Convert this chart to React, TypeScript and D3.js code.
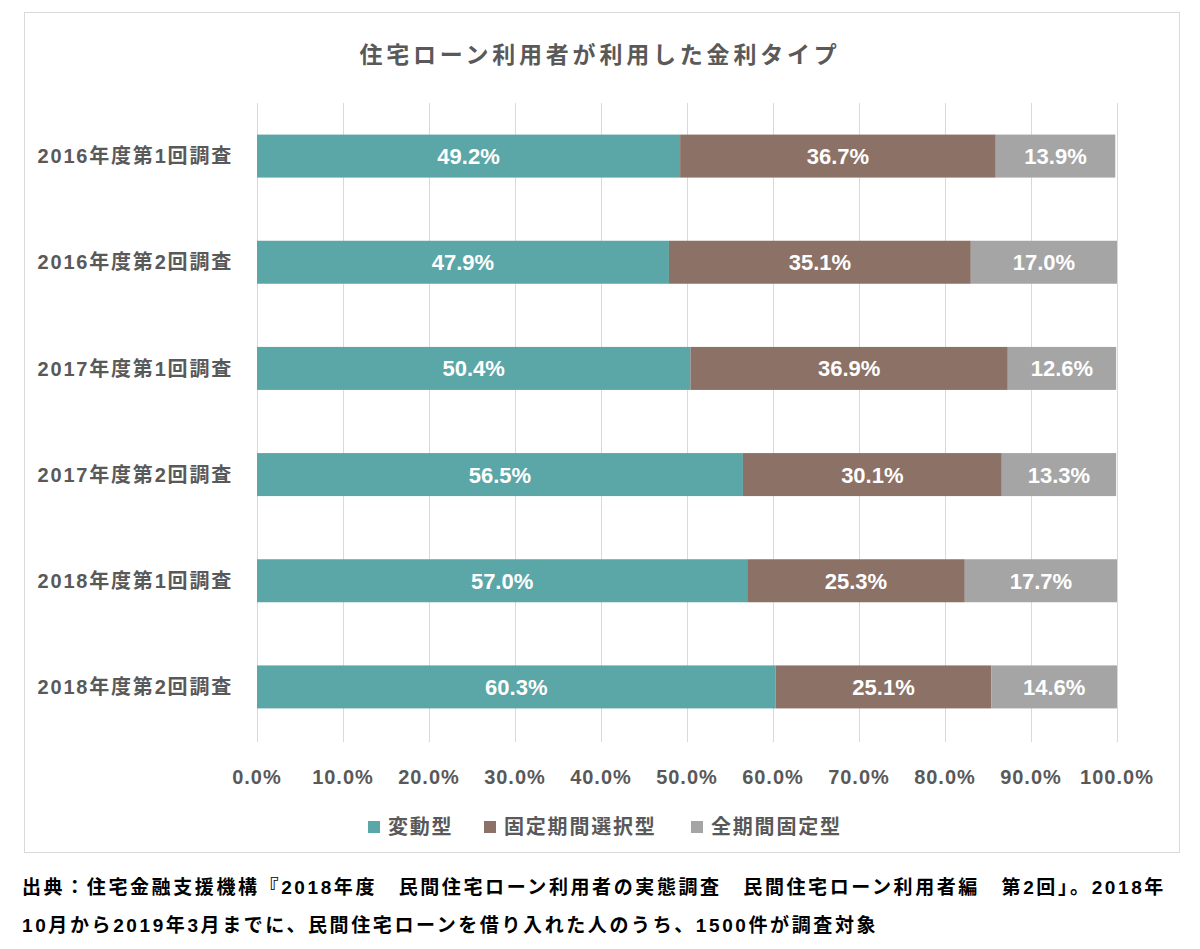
import React from "react";
import * as d3 from "d3";

// Survey rounds (rows, top → bottom)
const surveys = [
  "2016年度第1回調査",
  "2016年度第2回調査",
  "2017年度第1回調査",
  "2017年度第2回調査",
  "2018年度第1回調査",
  "2018年度第2回調査",
];

// Series
const seriesNames = ["変動型", "固定期間選択型", "全期間固定型"];
const variableRate = [49.2, 47.9, 50.4, 56.5, 57.0, 60.3];
const fixedPeriod = [36.7, 35.1, 36.9, 30.1, 25.3, 25.1];
const fullFixed = [13.9, 17.0, 12.6, 13.3, 17.7, 14.6];
const seriesColors = ["#5ba6a7", "#8c7166", "#a5a5a5"];

const xTicks = [0, 10, 20, 30, 40, 50, 60, 70, 80, 90, 100];

const title = "住宅ローン利用者が利用した金利タイプ";
const sourceLines = [
  "出典：住宅金融支援機構『2018年度　民間住宅ローン利用者の実態調査　民間住宅ローン利用者編　第2回」。2018年",
  "10月から2019年3月までに、民間住宅ローンを借り入れた人のうち、1500件が調査対象",
];

const W = 1200;
const H = 949;
const FONT = "'Liberation Sans', Arial, 'Noto Sans CJK JP', sans-serif";
const TXT = "#595959";

export default function App() {
  const plot = { left: 257, right: 1117, top: 103, bottom: 740 };

  const x = d3.scaleLinear().domain([0, 100]).range([plot.left, plot.right]);
  const y = d3
    .scaleBand<string>()
    .domain(surveys)
    .range([plot.top, plot.bottom])
    .paddingInner(0.595)
    .paddingOuter(0.2975);

  // build stacked table
  const rows = surveys.map((s, i) => ({
    survey: s,
    [seriesNames[0]]: variableRate[i],
    [seriesNames[1]]: fixedPeriod[i],
    [seriesNames[2]]: fullFixed[i],
  }));
  const stacked = d3.stack<any>().keys(seriesNames)(rows);

  // legend layout
  const legendX = [368, 484, 691];

  return (
    <svg
      width={W}
      height={H}
      style={{ position: "absolute", left: 0, top: 0, background: "#fff" }}
      fontFamily={FONT}
    >
      <rect x={24.5} y={12.5} width={1155} height={840} fill="#fff" stroke="#d9d9d9" strokeWidth={1} />

      <text
        x={600}
        y={63}
        textAnchor="middle"
        fontSize={23}
        fontWeight="bold"
        fill={TXT}
        letterSpacing={3.8}
      >
        {title}
      </text>

      {/* gridlines */}
      {xTicks.map((t) => (
        <line
          key={t}
          x1={Math.round(x(t)) + 0.5}
          x2={Math.round(x(t)) + 0.5}
          y1={plot.top}
          y2={plot.bottom + 2}
          stroke="#d9d9d9"
          strokeWidth={1}
        />
      ))}

      {/* bars */}
      {stacked.map((layer, si) => (
        <g key={layer.key} fill={seriesColors[si]}>
          {layer.map((d, i) => {
            const x0 = x(d[0]);
            const x1 = x(d[1]);
            const yy = y(surveys[i])!;
            return (
              <g key={i}>
                <rect x={x0} y={yy} width={x1 - x0} height={y.bandwidth()} />
                <text
                  x={(x0 + x1) / 2}
                  y={yy + y.bandwidth() / 2}
                  dy="0.36em"
                  textAnchor="middle"
                  fontSize={22}
                  fontWeight="bold"
                  fill="#fff"
                >
                  {(d[1] - d[0]).toFixed(1)}%
                </text>
              </g>
            );
          })}
        </g>
      ))}

      {/* category labels */}
      {surveys.map((s) => (
        <text
          key={s}
          x={233}
          y={y(s)! + y.bandwidth() / 2}
          dy="0.36em"
          textAnchor="end"
          fontSize={20}
          fontWeight="bold"
          fill={TXT}
          letterSpacing={1.8}
        >
          {s}
        </text>
      ))}

      {/* x tick labels */}
      {xTicks.map((t) => (
        <text
          key={t}
          x={x(t)}
          y={777}
          dy="0.36em"
          textAnchor="middle"
          fontSize={20}
          fontWeight="bold"
          fill={TXT}
          letterSpacing={1}
        >
          {t.toFixed(1)}%
        </text>
      ))}

      {/* legend */}
      {seriesNames.map((n, i) => (
        <g key={n} transform={`translate(${legendX[i]},827)`}>
          <rect x={0} y={-6} width={12} height={12} fill={seriesColors[i]} />
          <text x={20} y={0} dy="0.36em" fontSize={20} fontWeight="bold" fill={TXT} letterSpacing={1.8}>
            {n}
          </text>
        </g>
      ))}

      {/* source note */}
      {sourceLines.map((l, i) => (
        <text
          key={i}
          x={22}
          y={894 + i * 38}
          fontSize={19}
          fontWeight="bold"
          fill="#000"
          letterSpacing={2.6}
        >
          {l}
        </text>
      ))}
    </svg>
  );
}
